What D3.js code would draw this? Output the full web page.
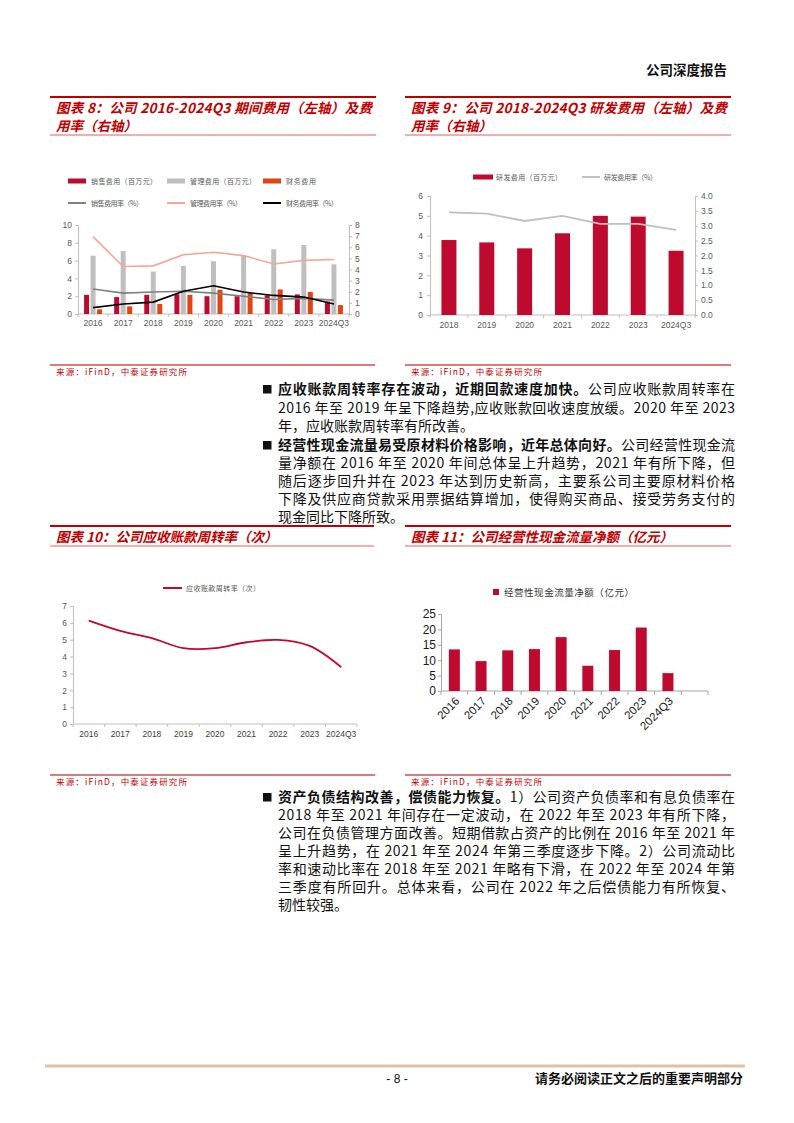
<!DOCTYPE html>
<html><head><meta charset="utf-8">
<script src="https://cdn.jsdelivr.net/npm/d3@7"></script>
<style>body{margin:0;background:#fff}svg{display:block}</style>
</head><body>
<svg id="page" width="794" height="1123"></svg>
<script>
// ---------- data ----------
const years8 = ["2016","2017","2018","2019","2020","2021","2022","2023","2024Q3"];
const salesExp = [2.15,1.9,2.15,2.22,2.0,2.0,2.1,2.2,1.4];
const adminExp = [6.55,7.08,4.77,5.41,5.93,6.52,7.27,7.75,5.58];
const finExp = [0.52,0.86,1.12,2.15,2.72,2.35,2.76,2.48,1.0];
const salesRate = [2.24,1.88,1.98,2.05,1.88,1.6,1.3,1.4,1.25];
const adminRate = [6.95,4.27,4.33,5.33,5.55,5.25,4.5,4.82,4.9];
const finRate = [0.57,0.9,1.07,2.05,2.54,1.97,1.67,1.52,0.9];
const legend8 = ["销售费用（百万元）","管理费用（百万元）","财务费用","销售费用率（%）","管理费用率（%）","财务费用率（%）"];

const years9 = ["2018","2019","2020","2021","2022","2023","2024Q3"];
const rdExp = [3.78,3.66,3.36,4.12,5.0,4.96,3.24];
const rdRate = [3.45,3.41,3.16,3.33,3.06,3.06,2.86];
const legend9 = ["研发费用（百万元）","研发费用率（%）"];

const years10 = ["2016","2017","2018","2019","2020","2021","2022","2023","2024Q3"];
const arTurnover = [6.13,5.52,5.09,4.5,4.5,4.85,4.99,4.63,3.37];
const legend10 = ["应收账款周转率（次）"];

const years11 = ["2016","2017","2018","2019","2020","2021","2022","2023","2024Q3",""];
const opCash = [13.5,9.7,13.2,13.6,17.5,8.2,13.3,20.6,5.8];
const legend11 = ["经营性现金流量净额（亿元）"];

const titles = ["图表 8：公司 2016-2024Q3 期间费用（左轴）及费","用率（右轴）",
  "图表 9：公司 2018-2024Q3 研发费用（左轴）及费","用率（右轴）",
  "图表 10：公司应收账款周转率（次）","图表 11：公司经营性现金流量净额（亿元）"];
const sourceText = "来源：iFinD，中泰证券研究所";

const para1 = [
  {b:"应收账款周转率存在波动，近期回款速度加快。", t:"公司应收账款周转率在"},
  {t:"2016 年至 2019 年呈下降趋势,应收账款回收速度放缓。2020 年至 2023"},
  {t:"年，应收账款周转率有所改善。", last:true}];
const para2 = [
  {b:"经营性现金流量易受原材料价格影响，近年总体向好。", t:"公司经营性现金流"},
  {t:"量净额在 2016 年至 2020 年间总体呈上升趋势，2021 年有所下降，但"},
  {t:"随后逐步回升并在 2023 年达到历史新高，主要系公司主要原材料价格"},
  {t:"下降及供应商贷款采用票据结算增加，使得购买商品、接受劳务支付的"},
  {t:"现金同比下降所致。", last:true}];
const para3 = [
  {b:"资产负债结构改善，偿债能力恢复。", t:"1）公司资产负债率和有息负债率在"},
  {t:"2018 年至 2021 年间存在一定波动，在 2022 年至 2023 年有所下降，"},
  {t:"公司在负债管理方面改善。短期借款占资产的比例在 2016 年至 2021 年"},
  {t:"呈上升趋势，在 2021 年至 2024 年第三季度逐步下降。2）公司流动比"},
  {t:"率和速动比率在 2018 年至 2021 年略有下滑，在 2022 年至 2024 年第"},
  {t:"三季度有所回升。总体来看，公司在 2022 年之后偿债能力有所恢复、"},
  {t:"韧性较强。", last:true}];

// ---------- styles ----------
const CJK = "'Noto Sans CJK SC','Liberation Sans',sans-serif";
const NUM = "'Liberation Sans','Noto Sans CJK SC',sans-serif";
const RED = "#c00000";
const C_SALES = "#bf0a30", C_ADMIN = "#bfbfbf", C_FIN = "#e2430f";
const C_SALESR = "#808080", C_ADMINR = "#f5a696", C_FINR = "#000000";
const AX = "#bfbfbf", TK = "#595959";

const svg = d3.select("#page");
svg.append("rect").attr("width",794).attr("height",1123).attr("fill","#fff");

// header
svg.append("text").attr("x",727).attr("y",75).attr("text-anchor","end")
  .attr("font-family",CJK).attr("font-size",13.5).attr("font-weight","bold").attr("fill","#111").text("公司深度报告");

// titles
function titleBlock(x0,x1,yTop,lines,justifyFirst){
  svg.append("line").attr("x1",x0).attr("x2",x1).attr("y1",yTop).attr("y2",yTop).attr("stroke",RED).attr("stroke-width",2);
  lines.forEach((l,i)=>{
    const t = svg.append("text").attr("x",x0+6).attr("y",yTop+16+i*18)
      .attr("font-family",CJK).attr("font-size",13.5).attr("font-weight","bold").attr("font-style","italic")
      .attr("fill",RED).text(l);
    if(justifyFirst && i===0 && lines.length>1) t.attr("textLength",x1-x0-10).attr("lengthAdjust","spacing");
  });
  const yb = yTop + 20 + (lines.length-1)*18;
  svg.append("line").attr("x1",x0).attr("x2",x1).attr("y1",yb).attr("y2",yb).attr("stroke","#e06060").attr("stroke-width",1.2);
}
titleBlock(50,376,97,[titles[0],titles[1]],true);
titleBlock(405,731,97,[titles[2],titles[3]],true);
titleBlock(50,374,526,[titles[4]],false);
titleBlock(405,731,526,[titles[5]],false);

// sources
function source(x0,x1,y){
  svg.append("line").attr("x1",x0).attr("x2",x1).attr("y1",y).attr("y2",y).attr("stroke","#e07a7a").attr("stroke-width",2);
  svg.append("text").attr("x",x0+6).attr("y",y+10).attr("font-family",CJK).attr("font-size",8.5)
    .attr("fill",RED).attr("textLength",131).attr("lengthAdjust","spacing").text(sourceText);
}
source(50,375,365); source(405,731,365);
source(50,375,775); source(405,731,775);

// ---------- helpers ----------
function styleAxis(g,color,size,fcolor){
  g.selectAll("path,line").attr("stroke",color);
  g.selectAll("text").attr("font-family",NUM).attr("font-size",size).attr("fill",fcolor);
}
function bandTicks(g,x,y0,len,color){
  const dom = x.domain(); const bw = x.bandwidth();
  const pos = dom.map(d=>x(d)); pos.push(x(dom[dom.length-1])+bw);
  g.selectAll(".bt").data(pos).join("line").attr("x1",d=>d).attr("x2",d=>d)
    .attr("y1",y0).attr("y2",y0+len).attr("stroke",color);
}
function legText(g,x,y,txt,size,len,color){
  g.append("text").attr("x",x).attr("y",y).attr("font-family",CJK).attr("font-size",size)
    .attr("fill",color||"#595959").attr("textLength",len).attr("lengthAdjust","spacing").text(txt);
}

// ---------- Chart 8 ----------
{
  const g = svg.append("g");
  const x = d3.scaleBand().domain(years8).range([78,349]);
  const yL = d3.scaleLinear().domain([0,10]).range([314,225]);
  const yR = d3.scaleLinear().domain([0,8]).range([314,225]);
  const lx = [68,167,263];
  const lenA = [66,66,30], lenB = [52,52,52];
  [[legend8[0],C_SALES],[legend8[1],C_ADMIN],[legend8[2],C_FIN]].forEach((d,i)=>{
    g.append("rect").attr("x",lx[i]).attr("y",178.5).attr("width",18).attr("height",5).attr("fill",d[1]);
    legText(g,lx[i]+23,184,d[0],7,lenA[i]);
  });
  [[legend8[3],C_SALESR],[legend8[4],C_ADMINR],[legend8[5],C_FINR]].forEach((d,i)=>{
    g.append("line").attr("x1",lx[i]).attr("x2",lx[i]+18).attr("y1",203).attr("y2",203).attr("stroke",d[1]).attr("stroke-width",2);
    legText(g,lx[i]+23,206,d[0],7,lenB[i]);
  });
  const ax1 = g.append("g").attr("transform","translate(78,0)").call(d3.axisLeft(yL).tickValues([0,2,4,6,8,10]).tickSize(3).tickPadding(3));
  styleAxis(ax1,AX,8.5,TK);
  const ax2 = g.append("g").attr("transform","translate(349,0)").call(d3.axisRight(yR).ticks(8).tickSize(3).tickPadding(3));
  styleAxis(ax2,AX,8.5,TK);
  g.append("line").attr("x1",78).attr("x2",349).attr("y1",314).attr("y2",314).attr("stroke",AX);
  const bt = g.append("g"); bandTicks(bt,x,314,3,AX);
  g.selectAll(".xl8").data(years8).join("text").attr("x",d=>x(d)+x.bandwidth()/2).attr("y",326)
    .attr("text-anchor","middle").attr("font-family",NUM).attr("font-size",8.5).attr("fill",TK).text(d=>d);
  const bw = 5;
  [[salesExp,C_SALES,-6.5],[adminExp,C_ADMIN,0],[finExp,C_FIN,6.5]].forEach(([arr,c,off])=>{
    g.selectAll(null).data(arr).join("rect")
      .attr("x",(d,i)=>x(years8[i])+x.bandwidth()/2+off-bw/2).attr("width",bw)
      .attr("y",d=>yL(d)).attr("height",d=>314-yL(d)).attr("fill",c);
  });
  [[salesRate,C_SALESR],[adminRate,C_ADMINR],[finRate,C_FINR]].forEach(([arr,c])=>{
    const line = d3.line().x((d,i)=>x(years8[i])+x.bandwidth()/2).y(d=>yR(d));
    g.append("path").attr("d",line(arr)).attr("fill","none").attr("stroke",c).attr("stroke-width",1.6);
  });
}

// ---------- Chart 9 ----------
{
  const g = svg.append("g");
  const x = d3.scaleBand().domain(years9).range([430,695]);
  const yL = d3.scaleLinear().domain([0,6]).range([315,196]);
  const yR = d3.scaleLinear().domain([0,4]).range([315,196]);
  g.append("rect").attr("x",473).attr("y",174.5).attr("width",20).attr("height",5).attr("fill",C_SALES);
  legText(g,496,180,legend9[0],7,66);
  g.append("line").attr("x1",582).attr("x2",600).attr("y1",177).attr("y2",177).attr("stroke",C_ADMIN).attr("stroke-width",2);
  legText(g,604,180,legend9[1],7,53);
  const ax1 = g.append("g").attr("transform","translate(430,0)").call(d3.axisLeft(yL).ticks(6).tickSize(3).tickPadding(4));
  styleAxis(ax1,AX,8.5,TK);
  const ax2 = g.append("g").attr("transform","translate(695,0)").call(d3.axisRight(yR).tickValues(d3.range(0,4.01,0.5)).tickFormat(d3.format(".1f")).tickSize(3).tickPadding(3));
  styleAxis(ax2,AX,8.5,TK);
  g.append("line").attr("x1",430).attr("x2",695).attr("y1",315).attr("y2",315).attr("stroke",AX);
  const bt = g.append("g"); bandTicks(bt,x,315,3,AX);
  g.selectAll(".xl9").data(years9).join("text").attr("x",d=>x(d)+x.bandwidth()/2).attr("y",328)
    .attr("text-anchor","middle").attr("font-family",NUM).attr("font-size",8.5).attr("fill",TK).text(d=>d);
  g.selectAll(null).data(rdExp).join("rect")
    .attr("x",(d,i)=>x(years9[i])+x.bandwidth()/2-7.5).attr("width",15)
    .attr("y",d=>yL(d)).attr("height",d=>315-yL(d)).attr("fill",C_SALES);
  const line = d3.line().x((d,i)=>x(years9[i])+x.bandwidth()/2).y(d=>yR(d));
  g.append("path").attr("d",line(rdRate)).attr("fill","none").attr("stroke",C_ADMIN).attr("stroke-width",1.8);
}

// ---------- Chart 10 ----------
{
  const g = svg.append("g");
  const x = d3.scaleBand().domain(years10).range([73,357]);
  const y = d3.scaleLinear().domain([0,7]).range([724,606]);
  g.append("line").attr("x1",163).attr("x2",182).attr("y1",588).attr("y2",588).attr("stroke",C_SALES).attr("stroke-width",2);
  legText(g,186,591,legend10[0],7,74);
  const ax = g.append("g").attr("transform","translate(73,0)").call(d3.axisLeft(y).ticks(7).tickSize(3).tickPadding(3));
  styleAxis(ax,AX,8.5,TK);
  g.append("line").attr("x1",73).attr("x2",357).attr("y1",724).attr("y2",724).attr("stroke",AX);
  const bt = g.append("g"); bandTicks(bt,x,724,3,AX);
  g.selectAll(".xl10").data(years10).join("text").attr("x",d=>x(d)+x.bandwidth()/2).attr("y",737)
    .attr("text-anchor","middle").attr("font-family",NUM).attr("font-size",8.5).attr("fill","#404040").text(d=>d);
  const line = d3.line().x((d,i)=>x(years10[i])+x.bandwidth()/2).y(d=>y(d)).curve(d3.curveCatmullRom.alpha(0.5));
  g.append("path").attr("d",line(arTurnover)).attr("fill","none").attr("stroke",C_SALES).attr("stroke-width",1.8);
}

// ---------- Chart 11 ----------
{
  const g = svg.append("g");
  const x = d3.scaleBand().domain(years11.map((d,i)=>i)).range([441,708]);
  const y = d3.scaleLinear().domain([0,25]).range([691,614]);
  g.append("rect").attr("x",493).attr("y",589).attr("width",6).attr("height",6).attr("fill",C_SALES);
  legText(g,504,596,legend11[0],9.5,130,"#333");
  const ax = g.append("g").attr("transform","translate(441,0)").call(d3.axisLeft(y).ticks(5).tickSize(3).tickPadding(2));
  styleAxis(ax,"#a6a6a6",12,"#1a1a1a");
  g.append("line").attr("x1",441).attr("x2",708).attr("y1",691).attr("y2",691).attr("stroke","#a6a6a6");
  const bt = g.append("g"); bandTicks(bt,x,691,4,"#a6a6a6");
  g.selectAll(".xl11").data(years11.filter(d=>d)).join("text")
    .attr("transform",(d,i)=>`translate(${x(i)+x.bandwidth()/2+3},${699}) rotate(-45)`)
    .attr("text-anchor","end").attr("dominant-baseline","central")
    .attr("font-family",NUM).attr("font-size",11.5).attr("fill","#1a1a1a").text(d=>d);
  g.selectAll(null).data(opCash).join("rect")
    .attr("x",(d,i)=>x(i)+x.bandwidth()/2-5.5).attr("width",11)
    .attr("y",d=>y(d)).attr("height",d=>691-y(d)).attr("fill",C_SALES);
}

// ---------- body text ----------
function paragraph(lines,y0,lh){
  svg.append("rect").attr("x",263).attr("y",y0-9).attr("width",8.5).attr("height",8.5).attr("fill","#111");
  lines.forEach((l,i)=>{
    const t = svg.append("text").attr("x",278).attr("y",y0+i*lh)
      .attr("font-family",CJK).attr("font-size",14).attr("fill","#111");
    if(l.b) t.append("tspan").attr("font-weight","bold").text(l.b);
    t.append("tspan").text(l.t);
    if(!l.last) t.attr("textLength",457).attr("lengthAdjust","spacing");
  });
}
paragraph(para1,394,18.5);
paragraph(para2,450,18);
paragraph(para3,802,18);

// footer
svg.append("line").attr("x1",45).attr("x2",745).attr("y1",1066).attr("y2",1066).attr("stroke","#e2c0a6").attr("stroke-width",3);
svg.append("text").attr("x",397).attr("y",1083).attr("text-anchor","middle").attr("font-family",NUM).attr("font-size",12).attr("fill","#111").text("- 8 -");
svg.append("text").attr("x",743).attr("y",1083).attr("text-anchor","end").attr("font-family",CJK).attr("font-size",13).attr("font-weight","bold").attr("fill","#111").text("请务必阅读正文之后的重要声明部分");
</script>
</body></html>
